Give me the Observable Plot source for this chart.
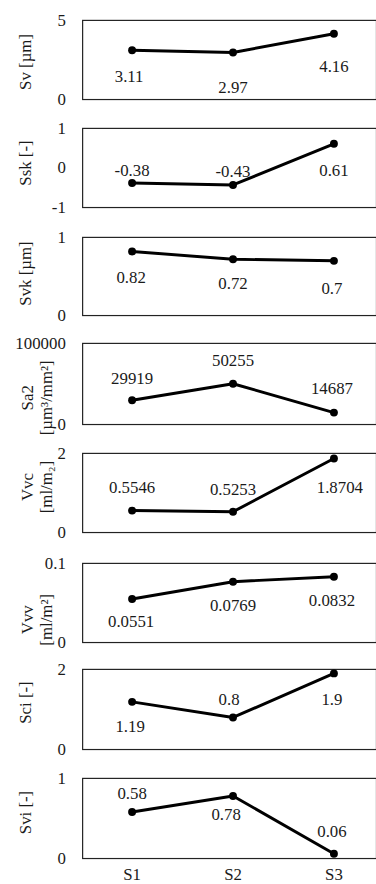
<!DOCTYPE html>
<html>
<head>
<meta charset="utf-8">
<script src="https://cdn.jsdelivr.net/npm/d3@7"></script>
<script src="https://cdn.jsdelivr.net/npm/@observablehq/plot@0.6"></script>
<style>
  html, body { margin: 0; padding: 0; background: #fff; overflow: hidden; font-family: "Liberation Serif", serif; }
  #stack { position: relative; width: 376px; height: 884px; overflow: hidden; }
  #stack svg { position: absolute; left: 0; }
</style>
</head>
<body>
<div id="stack"></div>
<script>
// Surface texture parameters for three samples
const samples = ["S1", "S2", "S3"];

const sv  = [3.11, 2.97, 4.16];
const ssk = [-0.38, -0.43, 0.61];
const svk = [0.82, 0.72, 0.7];
const sa2 = [29919, 50255, 14687];
const vvc = [0.5546, 0.5253, 1.8704];
const vvv = [0.0551, 0.0769, 0.0832];
const sci = [1.19, 0.8, 1.9];
const svi = [0.58, 0.78, 0.06];

const titles = ["Sv [µm]", "Ssk [-]", "Svk [µm]", "Sa2\n[µm³/mm²]", "Vvc\n[ml/m₂]", "Vvv\n[ml/m²]", "Sci [-]", "Svi [-]"];
const yTicks = [[0, 5], [-1, 0, 1], [0, 1], [0, 100000], [0, 2], [0, 0.1], [0, 2], [0, 1]];
const series = [sv, ssk, svk, sa2, vvc, vvv, sci, svi];

// Layout: frame top/bottom of each panel, vertical shift of each axis title,
// and label offsets [dx, dy] from each point
const frames = [[20, 100], [128, 208], [237, 316], [343, 425], [453, 533], [563, 643], [669, 750], [778, 859]];
const titleShift = [2, -5, -3, 14, -6, 17, -7, -6];
const labelOffsets = [
  [[-3, 27], [0, 35], [0, 33]],
  [[0, -13], [0, -14], [0, 27]],
  [[-1, 26], [0, 25], [-2, 28]],
  [[0, -22], [0, -23], [-2, -24]],
  [[0, -23], [0, -22], [6, 29]],
  [[-1, 23], [0, 24], [-2, 24]],
  [[-2, 25], [-4, -18], [-2, 27]],
  [[0, -19], [-7, 19], [-2, -22]]
];

const font = "Liberation Serif";
const stack = document.getElementById("stack");
const marginTop = 10;
const marginLeft = 83;

series.forEach((values, i) => {
  const last = i === series.length - 1;
  const [top, bottom] = frames[i];
  const marginBottom = last ? 30 : 10;
  const ticks = yTicks[i];
  const rows = samples.map((s, j) => ({s, v: values[j]}));
  const twoLines = titles[i].includes("\n");

  const marks = [
    Plot.frame({stroke: "#222", strokeWidth: 1.2}),
    Plot.axisY(ticks, {tickSize: 0, tickPadding: 17, label: null, tickFormat: d => String(d), fontFamily: font}),
    // rotated axis title, centred on the panel
    Plot.text([titles[i]], {
      text: d => d, frameAnchor: "left", textAnchor: "middle", lineAnchor: "middle",
      rotate: -90, lineHeight: 1.12, fontFamily: font,
      dx: twoLines ? -(marginLeft - 36) : -(marginLeft - 25),
      dy: titleShift[i]
    }),
    Plot.line(rows, {x: "s", y: "v", stroke: "#000", strokeWidth: 3}),
    Plot.dot(rows, {x: "s", y: "v", r: 4, fill: "#000"}),
    ...rows.map((r, j) => Plot.text([r], {
      x: "s", y: "v", text: d => String(d.v), fontFamily: font,
      dx: labelOffsets[i][j][0], dy: labelOffsets[i][j][1]
    }))
  ];
  if (last) marks.push(Plot.axisX({tickSize: 0, tickPadding: 10, label: null, fontFamily: font}));

  const chart = Plot.plot({
    width: 380,
    height: marginTop + (bottom - top) + marginBottom,
    marginLeft, marginRight: 0, marginTop, marginBottom,
    style: {fontFamily: font, fontSize: "17px", color: "#1a1a1a", background: "transparent", overflow: "visible"},
    x: {type: "point", domain: samples, range: [133, 337], padding: 0, axis: null},
    y: {domain: [ticks[0], ticks[ticks.length - 1]], axis: null},
    marks
  });
  chart.style.top = (top - marginTop) + "px";
  stack.appendChild(chart);
});
</script>
</body>
</html>
